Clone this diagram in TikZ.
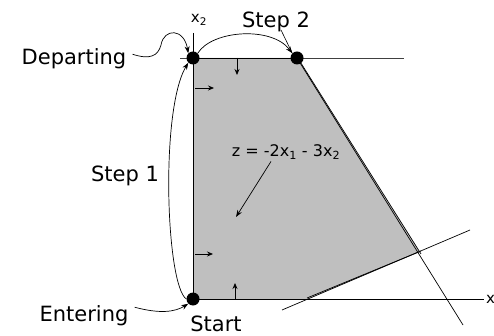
\documentclass[tikz,border=0pt]{standalone}
\usepackage{fontspec}
\setmainfont{DejaVu Sans}
\usetikzlibrary{arrows.meta}
\begin{document}
\begin{tikzpicture}[x=1pt,y=-1pt,
  lbl/.style={font=\fontsize{21}{24}\selectfont, inner sep=0pt, anchor=base},
  dot/.style={circle, fill=black, inner sep=0pt, minimum size=13pt},
  conn/.style={line width=0.7pt, -{Stealth[length=7pt,width=5pt]}},
  small/.style={line width=0.8pt, -{Stealth[length=6pt,width=5pt]}},
  edge/.style={line width=0.9pt}]
\useasboundingbox (0,0) rectangle (494,336);
% region
\fill[black!25] (193,58) -- (297,58) -- (420,252) -- (307,299) -- (193,299) -- cycle;
% axes and constraint lines
\draw[edge] (193,33) -- (193,299);
\draw[edge] (193,299) -- (484,299);
\draw[edge, black!75] (180,58) -- (404,58);
\draw[edge] (193,58) -- (297,58);
\draw[line width=0.7pt] (297,58) -- (463,325);
\draw[line width=0.7pt] (299,60) -- (421,254);
\draw[line width=0.7pt] (282,310) -- (470,230);
\draw[line width=0.7pt] (307,298) -- (421,251);
% constraint direction arrows
\draw[small] (237,58) -- (237,75);
\draw[small] (195,88) -- (214,88);
\draw[small] (195,254) -- (213,254);
\draw[small] (235,299) -- (235,283);
% vertices
\node[dot] (dep) at (193,58) {};
\node[dot] (v2) at (297,58) {};
\node[dot] (start) at (193,299) {};
% labels
\node[font=\fontsize{15}{18}\selectfont, inner sep=0pt] (x2) at (199,20) {x\textsubscript{2}};
\node[font=\fontsize{15}{18}\selectfont, inner sep=0pt, anchor=west] (x1) at (486,301) {x\textsubscript{1}};
\node[lbl] (deplbl) at (74,65) {Departing};
\node[lbl] (enlbl) at (84,321) {Entering};
\node[lbl] (s1) at (125,182) {Step 1};
\node[lbl] (s2) at (276,28) {Step 2};
\node[lbl] (st) at (216,331) {Start};
\node[font=\fontsize{16}{19}\selectfont, inner sep=0pt] (z) at (286,152) {z = -2x\textsubscript{1} - 3x\textsubscript{2}};
\coordinate (zt) at (236,217);
% connectors
\draw[conn] (deplbl.east) ++(6,-5) .. controls (150,60) and (158,56) .. (161,45) .. controls (164,28) and (184,28) .. (dep.north west);
\draw[conn] (dep.north east) .. controls (212,30) and (272,26) .. (v2.north west);
\draw[line width=0.6pt] (281,30) -- (v2.north west);
\draw[conn] (start.west) .. controls (166,285) and (160,110) .. (dep.south west);
\draw[conn] (enlbl.east) ++(6,-8) .. controls (160,314) and (175,312) .. (start.south west);
\draw[conn] (z.south) ++(-15,2) -- (zt);
\end{tikzpicture}
\end{document}
